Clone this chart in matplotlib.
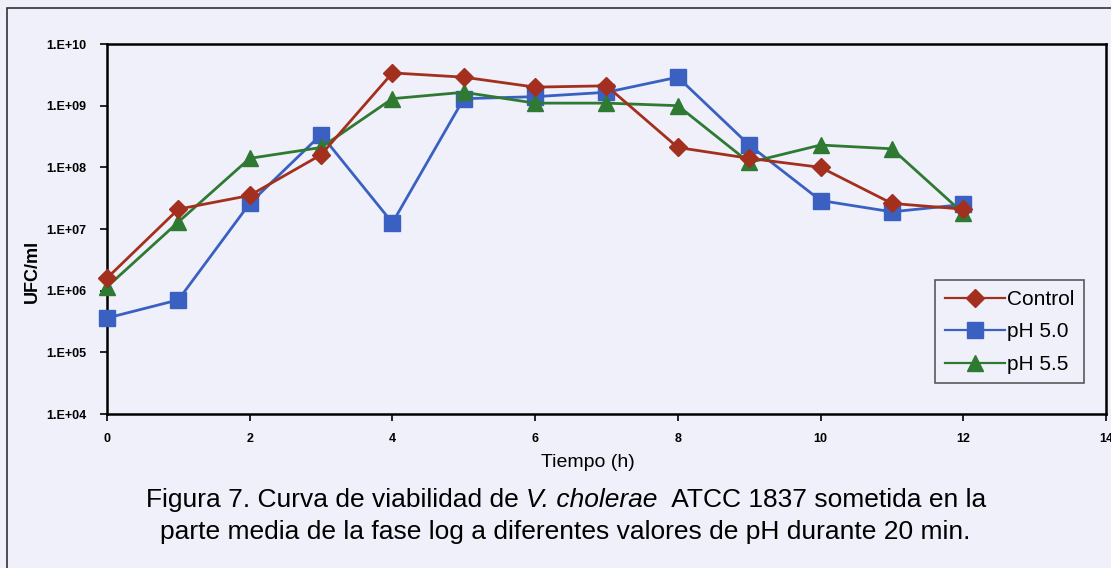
import matplotlib
matplotlib.use("Agg")
import matplotlib.pyplot as plt
from matplotlib.patches import Rectangle
from matplotlib.ticker import FixedLocator, NullLocator

plt.rcParams["font.family"] = ["Liberation Sans", "DejaVu Sans"]

# Viability counts (UFC/ml) sampled every hour
tiempo = [0, 1, 2, 3, 4, 5, 6, 7, 8, 9, 10, 11, 12]
control = [1.6e6, 2.1e7, 3.5e7, 1.6e8, 3.4e9, 2.9e9, 2.0e9, 2.1e9, 2.1e8, 1.4e8, 1.0e8, 2.6e7, 2.1e7]
ph_50 = [3.6e5, 7.1e5, 2.6e7, 3.4e8, 1.26e7, 1.3e9, 1.4e9, 1.65e9, 2.9e9, 2.3e8, 2.9e7, 1.9e7, 2.5e7]
ph_55 = [1.15e6, 1.3e7, 1.4e8, 2.1e8, 1.3e9, 1.65e9, 1.1e9, 1.1e9, 1.0e9, 1.2e8, 2.3e8, 2.0e8, 1.8e7]

y_ticks = [1e4, 1e5, 1e6, 1e7, 1e8, 1e9, 1e10]
y_tick_labels = ["1.E+04", "1.E+05", "1.E+06", "1.E+07", "1.E+08", "1.E+09", "1.E+10"]
x_ticks = [0, 2, 4, 6, 8, 10, 12, 14]

bg = "#eff0f9"
fig = plt.figure(figsize=(11.11, 5.68), dpi=100, facecolor=bg)
ax = fig.add_axes([0.0963, 0.2711, 0.8992, 0.6514])
ax.set_facecolor(bg)

ax.plot(tiempo, control, color="#a3301e", lw=2.0, marker="D", ms=9.5,
        label="Control", zorder=4, clip_on=False)
ax.plot(tiempo, ph_50, color="#3a60c2", lw=2.0, marker="s", ms=11,
        label="pH 5.0", zorder=3, clip_on=False)
ax.plot(tiempo, ph_55, color="#2f7a32", lw=2.0, marker="^", ms=11,
        label="pH 5.5", zorder=3, clip_on=False)

ax.set_yscale("log")
ax.set_ylim(1e4, 1e10)
ax.set_xlim(0, 14)
ax.yaxis.set_major_locator(FixedLocator(y_ticks))
ax.set_yticklabels(y_tick_labels)
ax.yaxis.set_minor_locator(NullLocator())
ax.set_xticks(x_ticks)

for s in ax.spines.values():
    s.set_linewidth(1.8)
ax.tick_params(axis="both", direction="out", length=5, width=1.2,
               labelsize=9)
for lbl in ax.get_xticklabels() + ax.get_yticklabels():
    lbl.set_fontweight("bold")
ax.tick_params(axis="x", pad=9)
ax.tick_params(axis="y", pad=10)

ax.set_xlabel("Tiempo (h)", fontsize=14)
ax.xaxis.set_label_coords(0.481, -0.108)
ax.set_ylabel("UFC/ml", fontsize=13, fontweight="bold")
ax.yaxis.set_label_coords(-0.066, 0.384)

leg = ax.legend(loc="lower right", bbox_to_anchor=(0.978, 0.083),
                fontsize=15, frameon=True, fancybox=False,
                handlelength=2.9, handletextpad=0.1, borderpad=0.45,
                labelspacing=0.65, borderaxespad=0)
leg.get_frame().set_edgecolor("#333333")
leg.get_frame().set_linewidth(1.2)
leg.get_frame().set_facecolor(bg)
for line in leg.get_lines():
    line.set_linewidth(1.6)

# outer frame of the figure panel
fig.patches.append(Rectangle((7 / 1111, -0.05), 1.2, (568 - 8) / 568 + 0.05,
                             transform=fig.transFigure, fill=False,
                             edgecolor="#333333", lw=1.2))

# caption, with the species name in italics
cap_size = 19
cap_y1 = 1 - 500 / 568
cap_y2 = 1 - 532 / 568
fig.text(0.5085, cap_y2, "parte media de la fase log a diferentes valores de pH durante 20 min.",
         fontsize=cap_size, ha="center", va="center")

parts = [("Figura 7. Curva de viabilidad de ", "normal"),
         ("V. cholerae", "italic"),
         ("  ATCC 1837 sometida en la", "normal")]
fig.canvas.draw()
r = fig.canvas.get_renderer()
widths = []
for txt, st in parts:
    t = fig.text(0, 0, txt, fontsize=cap_size, style=st)
    widths.append(t.get_window_extent(r).width / fig.bbox.width)
    t.remove()
x = 0.5095 - sum(widths) / 2
for (txt, st), w in zip(parts, widths):
    fig.text(x, cap_y1, txt, fontsize=cap_size, style=st, ha="left", va="center")
    x += w

fig.savefig("out.png", dpi=100, facecolor=bg)
